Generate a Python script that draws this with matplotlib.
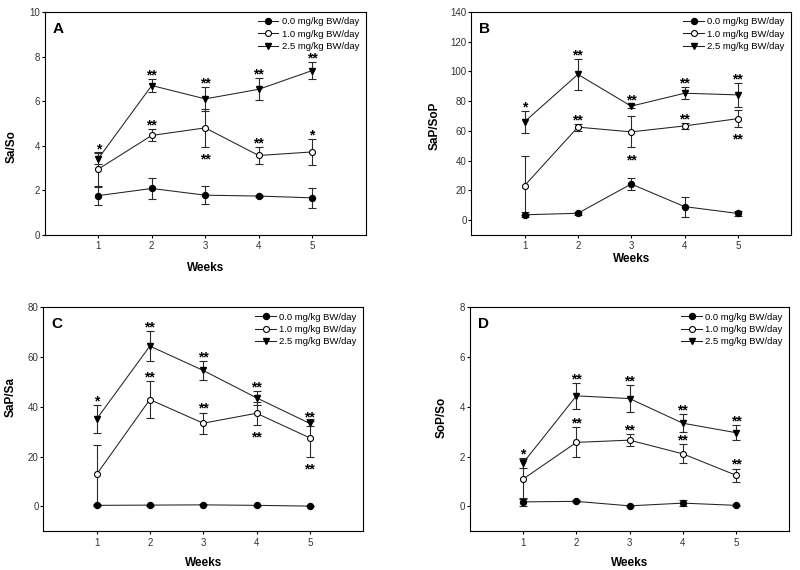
import matplotlib
matplotlib.use('Agg')
import matplotlib.pyplot as plt
import numpy as np

plt.rcParams['font.family'] = ['Liberation Sans', 'DejaVu Sans']

weeks = [1, 2, 3, 4, 5]
labels = ['0.0 mg/kg BW/day', '1.0 mg/kg BW/day', '2.5 mg/kg BW/day']

# panel A  Sa/So
a_ctrl = [1.76, 2.08, 1.78, 1.74, 1.66]
a_ctrl_err = [0.40, 0.47, 0.40, 0.05, 0.44]
a_low = [2.95, 4.46, 4.80, 3.56, 3.72]
a_low_err = [0.75, 0.27, 0.85, 0.38, 0.58]
a_high = [3.42, 6.70, 6.10, 6.53, 7.37]
a_high_err = [0.25, 0.30, 0.55, 0.50, 0.40]
a_star_high = ['*', '**', '**', '**', '**']
a_star_low = ['', '**', '**', '**', '*']
a_side_low = ['', 'up', 'down', 'up', 'up']

# panel B  SaP/SoP
b_ctrl = [3.5, 4.5, 24.2, 9.0, 4.4]
b_ctrl_err = [1.8, 1.2, 3.8, 6.8, 1.5]
b_low = [23.1, 62.5, 59.3, 63.3, 68.2]
b_low_err = [20.0, 2.3, 10.4, 2.2, 5.8]
b_high = [66.1, 98.0, 76.6, 85.3, 84.2]
b_high_err = [7.5, 10.6, 1.2, 4.2, 8.0]
b_star_high = ['*', '**', '**', '**', '**']
b_star_low = ['', '**', '**', '**', '**']
b_side_low = ['', 'up', 'down', 'up', 'down']

# panel C  SaP/Sa
c_ctrl = [0.4, 0.5, 0.6, 0.4, 0.1]
c_ctrl_err = [0.2, 0.2, 0.2, 0.2, 0.1]
c_low = [12.8, 42.9, 33.4, 37.4, 27.5]
c_low_err = [12.0, 7.6, 4.3, 4.6, 7.6]
c_high = [35.0, 64.4, 54.6, 43.6, 33.3]
c_high_err = [5.7, 6.0, 3.9, 2.8, 1.0]
c_star_high = ['*', '**', '**', '**', '**']
c_star_low = ['', '**', '**', '**', '**']
c_side_low = ['', 'up', 'up', 'down', 'down']

# panel D  SoP/So
d_ctrl = [0.18, 0.20, 0.02, 0.13, 0.04]
d_ctrl_err = [0.15, 0.04, 0.02, 0.11, 0.03]
d_low = [1.10, 2.57, 2.66, 2.11, 1.25]
d_low_err = [0.82, 0.60, 0.25, 0.38, 0.27]
d_high = [1.75, 4.44, 4.33, 3.34, 2.96]
d_high_err = [0.20, 0.53, 0.54, 0.36, 0.30]
d_star_high = ['*', '**', '**', '**', '**']
d_star_low = ['', '**', '**', '**', '**']
d_side_low = ['', 'up', 'up', 'up', 'up']


def star(ax, x, y, err, s, side):
    if not s:
        return
    if side == 'up':
        ax.annotate(s, (x, y + err), xytext=(0, -0.3), textcoords='offset points',
                    ha='center', va='baseline', fontsize=10, fontweight='bold')
    else:
        ax.annotate(s, (x, y - err), xytext=(0, -12), textcoords='offset points',
                    ha='center', va='baseline', fontsize=10, fontweight='bold')


def panel(ax, letter, ylabel, ctrl, ctrl_err, low, low_err, high, high_err,
          star_high, star_low, side_low, ylim, yticks, ylab_pos, xlab_y):
    eb = dict(fmt='none', ecolor='#2a2a2a', elinewidth=0.8, capsize=2.6, capthick=0.8, zorder=2)
    ax.errorbar(weeks, ctrl, yerr=ctrl_err, **eb)
    ax.errorbar(weeks, low, yerr=low_err, **eb)
    ax.errorbar(weeks, high, yerr=high_err, **eb)
    ax.plot(weeks, ctrl, color='#222222', lw=0.75, marker='o', ms=4.3,
            mfc='black', mec='black', label=labels[0], zorder=3)
    ax.plot(weeks, low, color='#222222', lw=0.75, marker='o', ms=4.3,
            mfc='white', mec='black', mew=0.8, label=labels[1], zorder=3)
    ax.plot(weeks, high, color='#222222', lw=0.75, marker='v', ms=4.8,
            mfc='black', mec='black', label=labels[2], zorder=3)
    for i in range(5):
        star(ax, weeks[i], high[i], high_err[i], star_high[i], 'up')
        star(ax, weeks[i], low[i], low_err[i], star_low[i], side_low[i])

    ax.set_xlim(0, 6)
    ax.set_ylim(*ylim)
    ax.set_xticks(weeks)
    ax.set_yticks(yticks)
    ax.tick_params(direction='out', length=2, width=0.8, labelsize=7,
                   labelcolor='#333333', top=False, right=False)
    ax.tick_params(axis='x', pad=2.6)
    ax.tick_params(axis='y', pad=1.3)
    for sp in ax.spines.values():
        sp.set_linewidth(0.8)
    ax.set_xlabel('Weeks', fontsize=8.5, fontweight='bold')
    ax.set_ylabel(ylabel, fontsize=8.5, fontweight='bold')
    ax.xaxis.set_label_coords(0.5, xlab_y)
    ax.yaxis.set_label_coords(ylab_pos[0], ylab_pos[1])
    ax.text(0.025, 0.955, letter, transform=ax.transAxes, fontsize=11,
            fontweight='bold', va='top', ha='left')
    ax.legend(loc='upper right', bbox_to_anchor=(1.0, 1.005), frameon=False,
              fontsize=6.8, handlelength=2.2, handletextpad=0.35,
              labelspacing=0.35, numpoints=1, borderaxespad=0.3)


fig = plt.figure(figsize=(8, 5.7), dpi=100)
axA = fig.add_axes([0.056, 0.588, 0.401, 0.391])
axB = fig.add_axes([0.589, 0.588, 0.400, 0.391])
axC = fig.add_axes([0.054, 0.068, 0.400, 0.393])
axD = fig.add_axes([0.5875, 0.068, 0.399, 0.393])

panel(axA, 'A', 'Sa/So', a_ctrl, a_ctrl_err, a_low, a_low_err, a_high, a_high_err,
      a_star_high, a_star_low, a_side_low, (0, 10), [0, 2, 4, 6, 8, 10], (-0.084, 0.395), -0.121)
panel(axB, 'B', 'SaP/SoP', b_ctrl, b_ctrl_err, b_low, b_low_err, b_high, b_high_err,
      b_star_high, b_star_low, b_side_low, (-10, 140), [0, 20, 40, 60, 80, 100, 120, 140],
      (-0.097, 0.49), -0.083)
panel(axC, 'C', 'SaP/Sa', c_ctrl, c_ctrl_err, c_low, c_low_err, c_high, c_high_err,
      c_star_high, c_star_low, c_side_low, (-10, 80), [0, 20, 40, 60, 80], (-0.084, 0.6), -0.116)
panel(axD, 'D', 'SoP/So', d_ctrl, d_ctrl_err, d_low, d_low_err, d_high, d_high_err,
      d_star_high, d_star_low, d_side_low, (-1, 8), [0, 2, 4, 6, 8], (-0.069, 0.51), -0.116)

fig.savefig('out.png', dpi=100)
